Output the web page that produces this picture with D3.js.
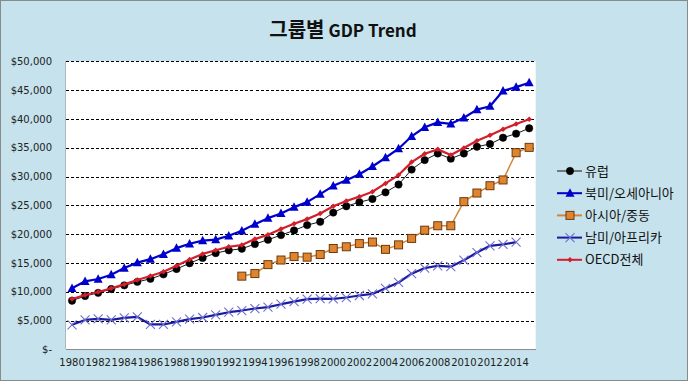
<!DOCTYPE html>
<html><head><meta charset="utf-8">
<script src="https://cdn.jsdelivr.net/npm/d3@7"></script>
<style>
html,body{margin:0;padding:0;background:#fff;}
svg{display:block;}
</style></head>
<body>
<svg id="c" width="688" height="381"></svg>
<script>
const years = d3.range(1980, 2016);
const xTickLabels = d3.range(1980, 2016, 2);
const yTicks = [0,5000,10000,15000,20000,25000,30000,35000,40000,45000,50000];
const seriesNames = ["유럽","북미/오세아니아","아시아/중동","남미/아프리카","OECD전체"];

const europe = [8440,9250,9800,10460,11100,11710,12230,13010,13940,14940,15870,16700,17180,17460,18270,19020,19830,20640,21560,22140,23730,24830,25550,26100,27250,28600,31200,32850,34000,33100,34000,35170,35640,36740,37440,38370];
const northAmOceania = [10600,11800,12200,12950,14100,15050,15650,16500,17560,18320,18870,19040,19710,20580,21730,22770,23580,24680,25550,26940,28380,29360,30400,31740,33260,34830,36980,38550,39400,39150,40200,41600,42200,44880,45520,46280];
const asiaMideast = [null,null,null,null,null,null,null,null,null,null,null,null,null,12700,13150,14700,15500,16100,16000,16450,17500,17800,18350,18620,17350,18130,19250,20680,21450,21450,25630,27130,28400,29400,34130,35060];
const southAmAfrica = [4250,5100,5290,5110,5460,5630,4310,4310,4770,5230,5520,5980,6440,6730,7080,7310,7830,8290,8700,8810,8760,8990,9340,9620,10580,11600,13130,14100,14500,14350,15470,16800,17970,18200,18600,null];
const oecdTotal = [8730,9420,9940,10580,11270,12020,12720,13470,14510,15580,16560,17200,17800,18090,19130,19880,20870,21790,22600,23580,24830,25760,26500,27350,28800,30250,32500,33950,34710,33720,34940,36220,37150,38200,39130,39940];

const seriesValues = [europe, northAmOceania, asiaMideast, southAmAfrica, oecdTotal];

const styles = [
  {line:"#1a1a1a", lw:1, marker:"circle", fill:"#000", stroke:"#000", size:3.7, legendLine:"#555"},
  {line:"#0000CC", lw:2.2, marker:"triangle", fill:"#0000CC", stroke:"#0000CC", size:9, legendLine:"#0000CC"},
  {line:"#D2843A", lw:1.5, marker:"square", fill:"#E0852E", stroke:"#6b3a10", size:8, legendLine:"#D2843A"},
  {line:"#1B1BA0", lw:2.2, marker:"x", fill:"none", stroke:"#6F6FD2", size:9, legendLine:"#1B1BA0"},
  {line:"#D21F2B", lw:2.2, marker:"diamond", fill:"#D21F2B", stroke:"#D21F2B", size:4.5, legendLine:"#D21F2B"}
];

const svg = d3.select("#c");
const W = 688, H = 381;
const plot = {l:65.5, r:535.7, t:61.3, b:349.3};

svg.append("rect").attr("x",0.5).attr("y",0.5).attr("width",W-1).attr("height",H-1)
  .attr("fill","#C6E2EC").attr("stroke","#8a8a8a").attr("stroke-width",1);

svg.append("rect").attr("x",plot.l).attr("y",plot.t).attr("width",plot.r-plot.l).attr("height",plot.b-plot.t)
  .attr("fill","#fff");

const x = d3.scaleBand().domain(years).range([plot.l, plot.r]).padding(0);
const cx = yr => x(yr) + x.bandwidth()/2;
const y = d3.scaleLinear().domain([0,50000]).range([plot.b, plot.t]);

const grid = svg.append("g").attr("transform",`translate(${plot.l},0)`)
  .call(d3.axisLeft(y).tickValues(yTicks.filter(v=>v>0)).tickSize(-(plot.r-plot.l)).tickFormat(""));
grid.select(".domain").remove();
grid.selectAll("line").attr("stroke","#000").attr("stroke-width",1).attr("stroke-dasharray","3,2")
  .attr("shape-rendering","crispEdges");

svg.append("line").attr("x1",plot.l).attr("x2",plot.r).attr("y1",plot.b).attr("y2",plot.b)
  .attr("stroke","#8c8c8c").attr("stroke-width",1).attr("shape-rendering","crispEdges");
svg.append("line").attr("x1",plot.l).attr("x2",plot.l).attr("y1",plot.t).attr("y2",plot.b)
  .attr("stroke","#a9b9bf").attr("stroke-width",1).attr("shape-rendering","crispEdges");

const fmt = v => v === 0 ? "$-" : "$" + d3.format(",")(v);
const ya = svg.append("g").attr("transform",`translate(52,0)`)
  .call(d3.axisLeft(y).tickValues(yTicks).tickSize(0).tickPadding(0).tickFormat(fmt));
ya.select(".domain").remove();
ya.selectAll("text").attr("font-family","'DejaVu Sans', Verdana, sans-serif").attr("font-size","10px").attr("fill","#222");

const xa = svg.append("g").attr("transform",`translate(0,${plot.b})`)
  .call(d3.axisBottom(x).tickValues(xTickLabels).tickSize(0).tickPadding(10));
xa.select(".domain").remove();
xa.selectAll("text").attr("font-family","'DejaVu Sans', Verdana, sans-serif").attr("font-size","10px").attr("fill","#222");

const line = d3.line().defined(d => d.v != null).x(d => cx(d.yr)).y(d => y(d.v));

function drawMarker(g, type, px, py, st) {
  const s = st.size;
  if (type === "circle") {
    g.append("circle").attr("cx",px).attr("cy",py).attr("r",s).attr("fill",st.fill).attr("stroke",st.stroke).attr("stroke-width",0.5);
  } else if (type === "triangle") {
    const h = s*0.9;
    g.append("path").attr("d",`M${px},${py-h*0.6}L${px+s/2},${py+h*0.45}L${px-s/2},${py+h*0.45}Z`).attr("fill",st.fill);
  } else if (type === "square") {
    g.append("rect").attr("x",px-s/2).attr("y",py-s/2).attr("width",s).attr("height",s)
      .attr("fill",st.fill).attr("stroke",st.stroke).attr("stroke-width",1);
  } else if (type === "x") {
    const h = s/2;
    g.append("path").attr("d",`M${px-h},${py-h}L${px+h},${py+h}M${px-h},${py+h}L${px+h},${py-h}`)
      .attr("stroke",st.stroke).attr("stroke-width",1.1).attr("fill","none");
  } else if (type === "diamond") {
    const h = s/2+0.5;
    g.append("path").attr("d",`M${px},${py-h}L${px+h},${py}L${px},${py+h}L${px-h},${py}Z`).attr("fill",st.fill);
  }
}

const drawOrder = [3,2,0,4,1];
drawOrder.forEach(i => {
  const st = styles[i];
  const data = years.map((yr,k) => ({yr, v: seriesValues[i][k]}));
  const g = svg.append("g");
  g.append("path").datum(data).attr("d",line).attr("fill","none").attr("stroke",st.line)
    .attr("stroke-width",st.lw).attr("stroke-linejoin","round");
  data.filter(d => d.v != null).forEach(d => drawMarker(g, st.marker, cx(d.yr), y(d.v), st));
});

const legend = svg.append("g");
seriesNames.forEach((name,i) => {
  const st = styles[i];
  const ly = 171 + i*22.2;
  legend.append("line").attr("x1",557).attr("x2",582).attr("y1",ly).attr("y2",ly)
    .attr("stroke",st.legendLine).attr("stroke-width",i===0?1.5:2);
  drawMarker(legend, st.marker, 570, ly, st);
  legend.append("text").attr("x",585).attr("y",ly).attr("dy","0.36em")
    .attr("font-family","'Noto Sans CJK KR', sans-serif").attr("font-size","13px").attr("fill","#111")
    .text(name);
});

const title = svg.append("text").attr("x",343).attr("y",37).attr("text-anchor","middle")
  .attr("font-family","'Noto Sans CJK KR', 'Noto Sans', sans-serif").attr("font-weight","bold").attr("fill","#111");
title.append("tspan").attr("font-size","20px").text("그룹별");
title.append("tspan").attr("font-size","17px").attr("dx","4").text("GDP Trend");
</script>
</body></html>
